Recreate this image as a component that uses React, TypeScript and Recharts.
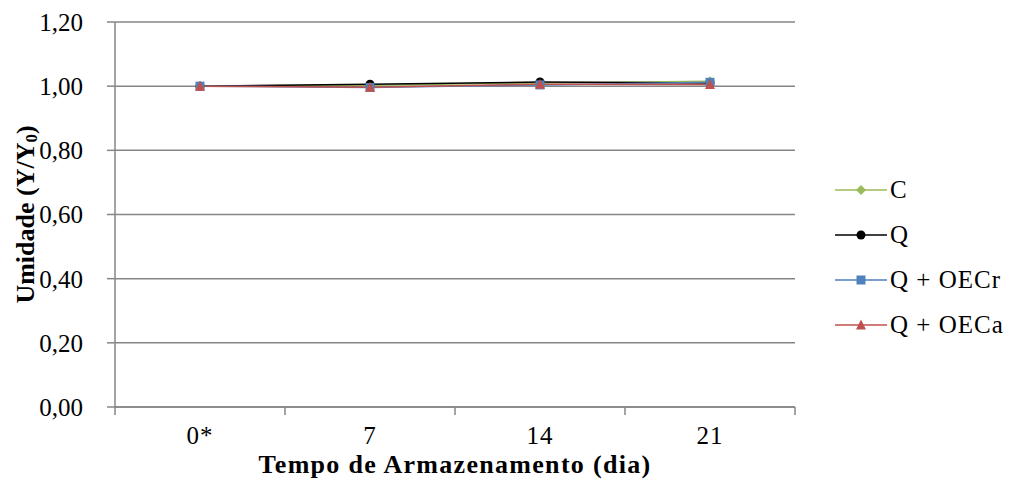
import { CartesianGrid, Label, Legend, Line, LineChart, XAxis, YAxis } from "recharts";

const days = ["0*", "7", "14", "21"];
const valuesC = [1.0, 1.003, 1.01, 1.015];
const valuesQ = [1.0, 1.006, 1.013, 1.01];
const valuesQr = [1.0, 0.996, 1.004, 1.012];
const valuesQa = [1.0, 0.997, 1.006, 1.005];
const yTicks = [0, 0.2, 0.4, 0.6, 0.8, 1.0, 1.2];
const xTicks = [0, 0.5, 1, 1.5, 2, 2.5, 3, 3.5, 4];

const series = [
  { key: "C", label: "C", color: "#9BBB59", shape: "diamond" },
  { key: "Q", label: "Q", color: "#000000", shape: "circle" },
  { key: "Qr", label: "Q + OECr", color: "#4F81BD", shape: "square" },
  { key: "Qa", label: "Q + OECa", color: "#C0504D", shape: "triangle" },
];

const data = days.map((d, i) => ({
  x: i + 0.5,
  C: valuesC[i],
  Q: valuesQ[i],
  Qr: valuesQr[i],
  Qa: valuesQa[i],
}));

const FONT = "Liberation Serif, Times New Roman, serif";
const AXIS = "#868686";

function Marker({ cx, cy, shape, color }: { cx: number; cy: number; shape: string; color: string }) {
  if (shape === "diamond")
    return <path d={`M${cx},${cy - 5}L${cx + 5},${cy}L${cx},${cy + 5}L${cx - 5},${cy}Z`} fill={color} />;
  if (shape === "circle") return <circle cx={cx} cy={cy} r={4.5} fill={color} />;
  if (shape === "square") return <rect x={cx - 4.5} y={cy - 4.5} width={9} height={9} fill={color} />;
  return <path d={`M${cx},${cy - 5.5}L${cx + 5},${cy + 4.5}L${cx - 5},${cy + 4.5}Z`} fill={color} />;
}

function XTick(props: any) {
  const { x, y, payload } = props;
  const v = payload.value as number;
  if (Number.isInteger(v)) return <line x1={x} x2={x} y1={y} y2={y + 8} stroke={AXIS} strokeWidth={1.5} />;
  return (
    <text x={x} y={y + 37} textAnchor="middle" style={{ fontFamily: FONT, fontSize: 25, letterSpacing: 1 }} fill="#000">
      {days[Math.floor(v)]}
    </text>
  );
}

function LegendBox() {
  return (
    <svg width={180} height={180}>
      {series.map((s, i) => {
        const cy = 25 + i * 45;
        return (
          <g key={s.key}>
            <line x1={5} x2={57} y1={cy} y2={cy} stroke={s.color} strokeWidth={1.5} />
            <Marker cx={31} cy={cy} shape={s.shape} color={s.color} />
            <text x={60} y={cy + 8} style={{ fontFamily: FONT, fontSize: 25, letterSpacing: 1 }} fill="#000">
              {s.label}
            </text>
          </g>
        );
      })}
    </svg>
  );
}

function YTitle(props: any) {
  const { viewBox } = props;
  const cx = 25;
  const cy = viewBox.y + viewBox.height / 2;
  return (
    <text
      x={cx}
      y={cy}
      transform={`rotate(-90, ${cx}, ${cy})`}
      textAnchor="middle"
      dominantBaseline="central"
      style={{ fontFamily: FONT, fontSize: 26, fontWeight: "bold" }}
      fill="#000"
    >
      Umidade (Y/Y<tspan style={{ fontSize: 17 }} dy={6}>0</tspan>
      <tspan dy={-6}>)</tspan>
    </text>
  );
}

export default function App() {
  return (
    <div style={{ position: "absolute", left: 0, top: 0, background: "#fff", fontFamily: FONT }}>
      <LineChart width={1010} height={488} data={data} margin={{ top: 22, right: 35, bottom: 0, left: 0 }}>
        <CartesianGrid vertical={false} stroke={AXIS} strokeWidth={1.5} />
        <XAxis
          dataKey="x"
          type="number"
          domain={[0, 4]}
          ticks={xTicks}
          interval={0}
          tick={<XTick />}
          tickLine={false}
          tickSize={0}
          tickMargin={0}
          axisLine={{ stroke: AXIS, strokeWidth: 1.5 }}
          height={81}
        >
          <Label
            value="Tempo de Armazenamento (dia)"
            position="insideBottom"
            offset={15}
            style={{ fontFamily: FONT, fontSize: 26, fontWeight: "bold", fill: "#000", letterSpacing: 1.3 }}
          />
        </XAxis>
        <YAxis
          domain={[0, 1.2]}
          ticks={yTicks}
          interval={0}
          width={115}
          tickSize={8}
          tickMargin={24}
          tickFormatter={(v: number) => v.toFixed(2).replace(".", ",")}
          tick={{ style: { fontFamily: FONT, fontSize: 25 }, fill: "#000" }}
          tickLine={{ stroke: AXIS, strokeWidth: 1.5 }}
          axisLine={{ stroke: AXIS, strokeWidth: 1.5 }}
        >
          <Label content={<YTitle />} />
        </YAxis>
        <Legend
          layout="vertical"
          align="right"
          verticalAlign="top"
          wrapperStyle={{ left: 830, top: 165, width: 180 }}
          content={() => <LegendBox />}
        />
        {series.map((s) => (
          <Line
            key={s.key}
            dataKey={s.key}
            stroke={s.color}
            strokeWidth={1.5}
            isAnimationActive={false}
            dot={(p: any) => <Marker key={`${s.key}-${p.index}`} cx={p.cx} cy={p.cy} shape={s.shape} color={s.color} />}
          />
        ))}
      </LineChart>
    </div>
  );
}
